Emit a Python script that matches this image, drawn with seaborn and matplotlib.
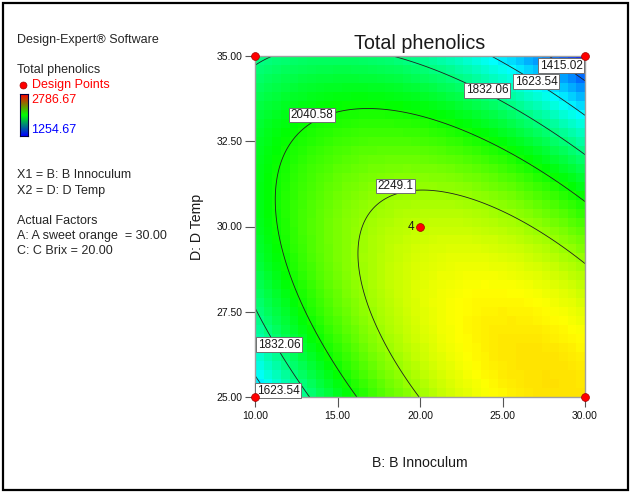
import numpy as np
import matplotlib
matplotlib.use("Agg")
import matplotlib.pyplot as plt
from matplotlib.colors import LinearSegmentedColormap
from matplotlib.patches import Rectangle
from matplotlib.lines import Line2D
import seaborn as sns
import pandas as pd

sns.set_theme(style="white")
plt.rcParams['font.family'] = ['Liberation Sans', 'DejaVu Sans']

# Quadratic response model for Total phenolics in coded units
# (x1 = coded B: Innoculum, x2 = coded D: Temp), A = 30.00, C = 20.00
model_terms = ["Intercept", "B", "D", "BD", "B^2", "D^2"]
model_coefs = [2311.23, 85.69, -229.24, -364.61, -263.27, -288.92]

# Factor ranges (actual units)
innoculum_range = [10.0, 30.0]
temp_range = [25.0, 35.0]

# Contour levels drawn on the response surface
contour_levels = [1415.02, 1623.54, 1832.06, 2040.58, 2249.1]
response_low, response_high = 1254.67, 2786.67

# Design points of the experiment (factorial corners + centre, 4 replicates)
design_innoculum = [10, 10, 30, 30, 20]
design_temp = [25, 35, 25, 35, 30]
centre_replicates = 4

x_ticks = [10, 15, 20, 25, 30]
y_ticks = [25, 27.5, 30, 32.5, 35]


def predict(B, D):
    lo_b, hi_b = innoculum_range
    lo_d, hi_d = temp_range
    a = (B - (lo_b + hi_b) / 2) / ((hi_b - lo_b) / 2)
    b = (D - (lo_d + hi_d) / 2) / ((hi_d - lo_d) / 2)
    c = model_coefs
    return c[0] + c[1]*a + c[2]*b + c[3]*a*b + c[4]*a**2 + c[5]*b**2


surface_cmap = LinearSegmentedColormap.from_list(
    "dx_surface", ["#0000ff", "#00ffff", "#00ff00", "#ffff00", "#ff0000"])
legend_cmap = LinearSegmentedColormap.from_list(
    "dx_legend", ["#0000ff", "#00ff00", "#ff0000"])

W, H = 630, 492
fig = plt.figure(figsize=(W/100, H/100), dpi=100)
fig.patch.set_facecolor("white")

ax = fig.add_axes([255/W, 95/H, 330/W, 341/H])

# Blocky filled surface
be = np.linspace(*innoculum_range, 39)
de = np.linspace(*temp_range, 39)
BB, DD = np.meshgrid((be[:-1] + be[1:]) / 2, (de[:-1] + de[1:]) / 2)
ax.pcolormesh(be, de, predict(BB, DD), cmap=surface_cmap,
              vmin=response_low, vmax=response_high, shading='flat')

# Smooth contour lines
bf = np.linspace(*innoculum_range, 301)
df_ = np.linspace(*temp_range, 301)
BF, DF = np.meshgrid(bf, df_)
cs = ax.contour(BF, DF, predict(BF, DF), levels=contour_levels,
                colors='#202020', linewidths=0.6)

# Boxed, horizontal contour labels
label_spots = [(28.55, 34.71), (27.03, 34.24), (24.06, 34.0), (13.45, 33.27),
               (18.5, 31.19), (11.45, 26.53), (11.39, 25.18)]
texts = ax.clabel(cs, fmt={lv: f"{lv:g}" for lv in contour_levels},
                  manual=label_spots, inline=False, fontsize=8.5, colors='k')
for t, spot in zip(texts, label_spots):
    t.set_position(spot)
    t.set_rotation(0)
    t.set_clip_on(False)
    t.set_bbox(dict(boxstyle='square,pad=0.12', fc='white', ec='#707070', lw=0.7))
    t.set_zorder(4)

# Design points
pts = pd.DataFrame({"B": design_innoculum, "D": design_temp})
sns.scatterplot(data=pts, x="B", y="D", ax=ax, color="#ff0000", s=32,
                edgecolor="#a00000", linewidth=0.5, zorder=6, clip_on=False,
                legend=False)
ax.text(19.65, 30, str(centre_replicates), ha='right', va='center',
        fontsize=8.5, color='k')

ax.set_xlim(*innoculum_range)
ax.set_ylim(*temp_range)
ax.set_xticks(x_ticks)
ax.set_xticklabels([f"{v:.2f}" for v in x_ticks])
ax.set_yticks(y_ticks)
ax.set_yticklabels([f"{v:.2f}" for v in y_ticks])
ax.tick_params(axis='both', direction='out', length=7, width=0.8,
               color='#555555', labelsize=7.5, pad=2, labelcolor='#111111')
ax.tick_params(axis='x', bottom=True, pad=3)
ax.tick_params(axis='y', left=True)
for s in ax.spines.values():
    s.set_color('#a0a0a0')
    s.set_linewidth(1.0)

ax.set_title("Total phenolics", fontsize=14.2, pad=5, color='k')
ax.set_xlabel("B: B Innoculum", fontsize=10.2, color='k')
ax.xaxis.set_label_coords(0.5, (397 - 463) / 341)
ax.xaxis.label.set_va('center')
ax.set_ylabel("D: D Temp", fontsize=10.2, color='k')
ax.yaxis.set_label_coords((197 - 255) / 330, 0.5)
ax.yaxis.label.set_va('center')


# Left information panel
def put(x, y, s, **kw):
    fig.text(x / W, 1 - y / H, s, va='center', ha='left', fontsize=9, **kw)


put(17, 40, "Design-Expert® Software")
put(17, 70, "Total phenolics")
fig.add_artist(Line2D([22.5 / W], [1 - 85 / H], marker='o',
               markersize=5, color='#ff0000', markeredgecolor='#a00000',
               markeredgewidth=0.5, linestyle='none'))
put(32, 85, "Design Points", color='#ff0000')
put(31, 100, f"{response_high:.2f}", color='#ff0000')
put(31, 130, f"{response_low:.2f}", color='#0000ff')
cax = fig.add_axes([20 / W, 1 - 136 / H, 8 / W, 42 / H])
cax.imshow(np.linspace(1, 0, 100).reshape(-1, 1), aspect='auto', cmap=legend_cmap)
cax.set_xticks([])
cax.set_yticks([])
for s in cax.spines.values():
    s.set_color('#000040')
    s.set_linewidth(0.8)
put(17, 175, "X1 = B: B Innoculum")
put(17, 191, "X2 = D: D Temp")
put(17, 221, "Actual Factors")
put(17, 236, "A: A sweet orange  = 30.00")
put(17, 251, "C: C Brix = 20.00")

# Outer frame
fig.add_artist(Rectangle((2.5 / W, 2.5 / H), 625 / W, 487 / H, transform=fig.transFigure,
                         fill=False, ec='black', lw=1.6))

fig.savefig("out.png", dpi=100)
